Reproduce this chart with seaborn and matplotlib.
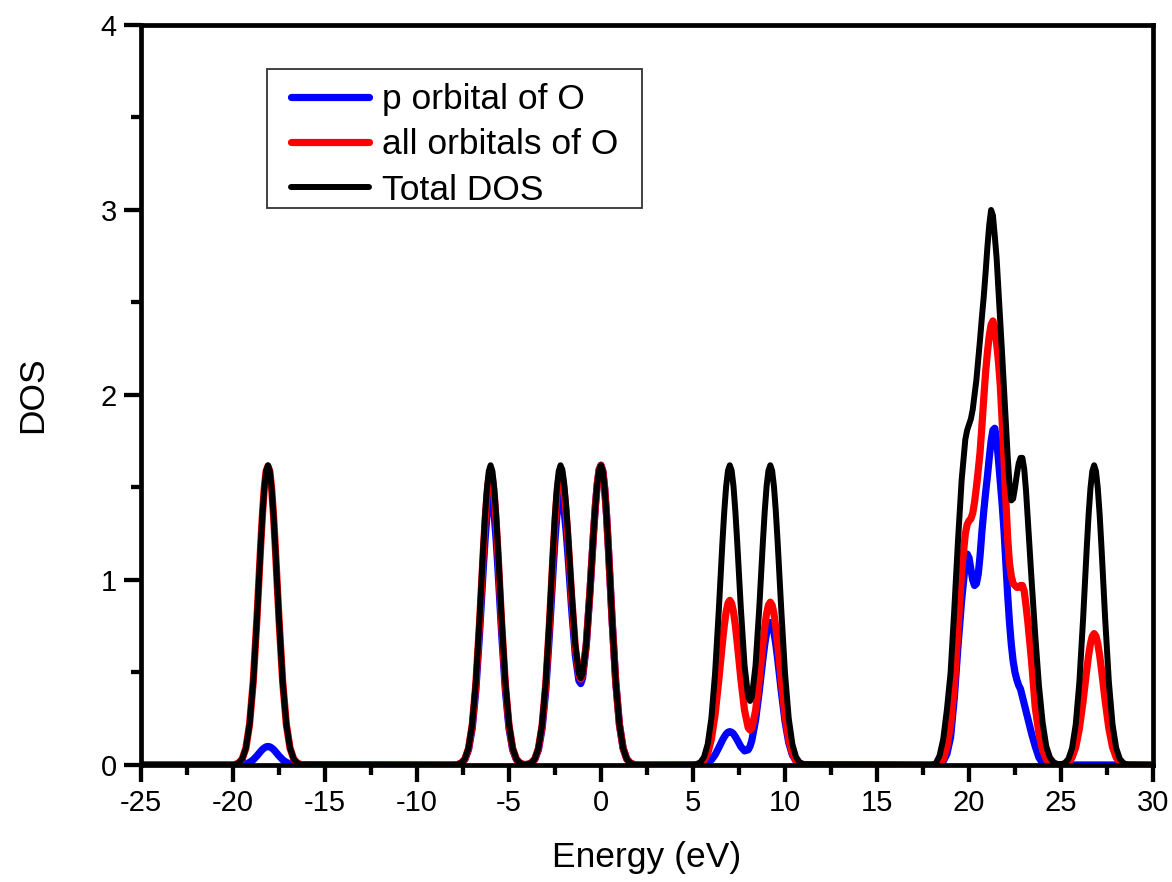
import numpy as np
import pandas as pd
import matplotlib
matplotlib.use("Agg")
import matplotlib.pyplot as plt
from matplotlib.ticker import MultipleLocator
from matplotlib.legend_handler import HandlerLine2D
from matplotlib.patches import Rectangle
import seaborn as sns

# ---------------- data ----------------
# region A: peak near -18.1 eV
energy_a = [-25.0, -20.0, -19.9, -19.7, -19.5, -19.3, -19.1, -18.9, -18.7, -18.5, -18.4,
            -18.3, -18.2, -18.1, -18.0, -17.9, -17.8, -17.7, -17.5, -17.3, -17.1, -16.9,
            -16.7, -16.5, -16.3]
total_a = [0, 0, 0.002, 0.010, 0.032, 0.091, 0.219, 0.450, 0.789, 1.176, 1.353,
           1.495, 1.588, 1.620, 1.588, 1.495, 1.353, 1.176, 0.789, 0.450, 0.219, 0.091,
           0.032, 0.010, 0.002]
o_all_a = [0, 0, 0.002, 0.010, 0.032, 0.091, 0.219, 0.450, 0.789, 1.176, 1.353,
           1.495, 1.588, 1.615, 1.588, 1.495, 1.353, 1.176, 0.789, 0.450, 0.219, 0.091,
           0.032, 0.010, 0.002]
o_p_a = [0, 0, 0.000, 0.001, 0.002, 0.006, 0.014, 0.028, 0.049, 0.073, 0.084,
         0.092, 0.098, 0.100, 0.098, 0.092, 0.084, 0.073, 0.049, 0.028, 0.014, 0.006,
         0.002, 0.001, 0.000]

# region B: peaks near -6.0, -2.2 and 0.0 eV
energy_b = [-8.0,
            -7.8, -7.6, -7.4, -7.2, -7.0, -6.8, -6.6, -6.4, -6.3, -6.2, -6.1, -6.0,
            -5.9, -5.8, -5.7, -5.6, -5.4, -5.2, -5.0, -4.8, -4.6, -4.4, -4.2,
            -4.0, -3.8, -3.6, -3.4, -3.2, -3.0, -2.8, -2.6, -2.5, -2.4, -2.3, -2.2,
            -2.1, -2.0, -1.9, -1.8, -1.6, -1.4, -1.2, -1.1, -1.0, -0.8, -0.6, -0.4,
            -0.3, -0.2, -0.1, 0.0, 0.1, 0.2, 0.3, 0.4, 0.6, 0.8, 1.0, 1.2, 1.4, 1.6, 1.8,
            2.0]
total_b = [0,
           0.002, 0.010, 0.032, 0.091, 0.219, 0.450, 0.789, 1.176, 1.353, 1.495, 1.588, 1.620,
           1.588, 1.495, 1.353, 1.176, 0.789, 0.450, 0.219, 0.091, 0.032, 0.010, 0.002,
           0.003, 0.010, 0.032, 0.091, 0.219, 0.450, 0.789, 1.176, 1.353, 1.495, 1.588, 1.620,
           1.596, 1.522, 1.408, 1.265, 0.940, 0.654, 0.492, 0.470, 0.492, 0.654, 0.940, 1.265,
           1.408, 1.522, 1.596, 1.620, 1.588, 1.495, 1.353, 1.176, 0.789, 0.450, 0.219, 0.091,
           0.032, 0.010, 0.002,
           0]
o_all_b = [0,
           0.002, 0.010, 0.031, 0.089, 0.214, 0.439, 0.769, 1.147, 1.319, 1.458, 1.548, 1.580,
           1.548, 1.458, 1.319, 1.147, 0.769, 0.439, 0.214, 0.089, 0.031, 0.010, 0.002,
           0.003, 0.010, 0.031, 0.089, 0.214, 0.439, 0.769, 1.147, 1.319, 1.458, 1.548, 1.580,
           1.555, 1.484, 1.371, 1.233, 0.917, 0.640, 0.484, 0.464, 0.489, 0.653, 0.939, 1.264,
           1.408, 1.522, 1.596, 1.620, 1.588, 1.495, 1.353, 1.176, 0.789, 0.450, 0.219, 0.091,
           0.032, 0.010, 0.002,
           0]
o_p_b = [0,
         0.002, 0.009, 0.029, 0.082, 0.197, 0.405, 0.710, 1.058, 1.218, 1.346, 1.429, 1.458,
         1.429, 1.346, 1.218, 1.058, 0.710, 0.405, 0.197, 0.082, 0.029, 0.009, 0.002,
         0.003, 0.009, 0.029, 0.082, 0.197, 0.405, 0.710, 1.058, 1.218, 1.346, 1.429, 1.458,
         1.435, 1.371, 1.268, 1.139, 0.848, 0.596, 0.455, 0.440, 0.470, 0.647, 0.937, 1.262,
         1.407, 1.521, 1.596, 1.620, 1.588, 1.495, 1.353, 1.176, 0.789, 0.450, 0.219, 0.091,
         0.032, 0.010, 0.002,
         0]

# region C: peaks near 7.0 and 9.2 eV
energy_c = [5.0, 5.2, 5.4, 5.6, 5.8, 6.0, 6.2, 6.4, 6.6, 6.7, 6.8, 6.9, 7.0, 7.1, 7.2, 7.3,
            7.4, 7.6, 7.8, 8.0, 8.1, 8.2, 8.4, 8.6, 8.8, 8.9, 9.0, 9.1, 9.2, 9.3, 9.4, 9.5,
            9.6, 9.8, 10.0, 10.2, 10.4, 10.6, 10.8, 11.0]
total_c = [0.001, 0.004, 0.014, 0.043, 0.113, 0.254, 0.496, 0.833, 1.205, 1.372, 1.505, 1.591,
           1.620, 1.591, 1.507, 1.374, 1.209, 0.847, 0.539, 0.367, 0.346, 0.367, 0.539, 0.847,
           1.209, 1.374, 1.507, 1.591, 1.620, 1.591, 1.505, 1.372, 1.205, 0.833, 0.496, 0.254,
           0.113, 0.043, 0.014, 0.004]
o_all_c = [0.001, 0.002, 0.008, 0.024, 0.062, 0.140, 0.272, 0.457, 0.662, 0.754, 0.827, 0.874,
           0.890, 0.874, 0.828, 0.755, 0.664, 0.465, 0.296, 0.201, 0.189, 0.200, 0.293, 0.460,
           0.657, 0.746, 0.818, 0.864, 0.880, 0.864, 0.818, 0.745, 0.655, 0.452, 0.269, 0.138,
           0.061, 0.023, 0.008, 0.002]
o_p_c = [0.0, 0.000, 0.002, 0.005, 0.013, 0.028, 0.055, 0.093, 0.134, 0.152, 0.167, 0.177,
         0.180, 0.177, 0.168, 0.153, 0.136, 0.099, 0.076, 0.082, 0.101, 0.134, 0.241, 0.398,
         0.573, 0.652, 0.715, 0.756, 0.770, 0.756, 0.715, 0.652, 0.573, 0.396, 0.236, 0.121,
         0.054, 0.021, 0.007, 0.002]

# region D: band 18-25 eV and peak near 26.8 eV
energy_d = [18.0, 18.2, 18.4, 18.6, 18.8, 19.0, 19.2, 19.4, 19.6, 19.8,
            19.9, 20.0, 20.1, 20.2, 20.3, 20.4, 20.5, 20.6, 20.7, 20.8,
            20.9, 21.0, 21.1, 21.2, 21.3, 21.4, 21.5, 21.6, 21.7, 21.8,
            21.9, 22.0, 22.1, 22.2, 22.3, 22.4, 22.5, 22.6, 22.7, 22.8,
            22.9, 23.0, 23.1, 23.2,
            23.4, 23.6, 23.8, 24.0, 24.2, 24.4, 24.6, 24.8,
            25.0, 25.2, 25.4, 25.6, 25.8, 26.0, 26.2, 26.4, 26.5, 26.6, 26.7, 26.8,
            26.9, 27.0, 27.1, 27.2, 27.4, 27.6, 27.8, 28.0, 28.2, 28.4, 28.6, 30.0]
total_d = [0.0, 0.01, 0.05, 0.14, 0.30, 0.50, 0.84, 1.21, 1.54, 1.76,
           1.81, 1.84, 1.87, 1.92, 2.00, 2.08, 2.19, 2.30, 2.42, 2.53,
           2.66, 2.80, 2.92, 3.00, 2.97, 2.86, 2.74, 2.57, 2.39, 2.22,
           2.04, 1.85, 1.67, 1.52, 1.43, 1.44, 1.50, 1.57, 1.63, 1.66,
           1.66, 1.60, 1.48, 1.32,
           1.00, 0.70, 0.43, 0.23, 0.10, 0.04, 0.015, 0.005,
           0.004, 0.010, 0.032, 0.091, 0.219, 0.450, 0.789, 1.176, 1.353, 1.495, 1.588, 1.620,
           1.588, 1.495, 1.353, 1.176, 0.789, 0.450, 0.219, 0.091, 0.032, 0.010, 0.002, 0.0]
o_all_d = [0.0, 0.0, 0.01, 0.03, 0.10, 0.22, 0.42, 0.73, 1.05, 1.25,
           1.30, 1.32, 1.33, 1.36, 1.42, 1.50, 1.59, 1.69, 1.83, 1.98,
           2.12, 2.23, 2.32, 2.38, 2.40, 2.36, 2.28, 2.18, 2.05, 1.86,
           1.65, 1.44, 1.23, 1.09, 1.02, 0.98, 0.97, 0.96, 0.96, 0.97,
           0.97, 0.94, 0.86, 0.77,
           0.56, 0.31, 0.17, 0.08, 0.03, 0.01, 0.0, 0.0,
           0.001, 0.004, 0.014, 0.040, 0.096, 0.197, 0.346, 0.515, 0.593, 0.655, 0.696, 0.710,
           0.696, 0.655, 0.593, 0.515, 0.346, 0.197, 0.096, 0.040, 0.014, 0.004, 0.001, 0.0]
o_p_d = [0.0, 0.0, 0.005, 0.02, 0.06, 0.15, 0.36, 0.64, 0.89, 1.09,
         1.14, 1.12, 1.06, 1.00, 0.97, 0.98, 1.03, 1.13, 1.26, 1.37,
         1.47, 1.56, 1.66, 1.75, 1.81, 1.82, 1.76, 1.65, 1.53, 1.41,
         1.27, 1.09, 0.92, 0.77, 0.65, 0.56, 0.50, 0.46, 0.43, 0.41,
         0.37, 0.33, 0.29, 0.25,
         0.17, 0.10, 0.04, 0.01, 0.0, 0.0, 0.0, 0.0,
         0.0, 0.0, 0.0, 0.0, 0.0, 0.0, 0.0, 0.0, 0.0, 0.0, 0.0, 0.0,
         0.0, 0.0, 0.0, 0.0, 0.0, 0.0, 0.0, 0.0, 0.0, 0.0, 0.0, 0.0]

series_labels = ["p orbital of O", "all orbitals of O", "Total DOS"]
series_colors = ["#0000FF", "#FF0000", "#000000"]
x_ticks = [-25, -20, -15, -10, -5, 0, 5, 10, 15, 20, 25, 30]
y_ticks = [0, 1, 2, 3, 4]

# ---------------- assemble ----------------
energy = energy_a + energy_b + energy_c + energy_d
o_p = o_p_a + o_p_b + o_p_c + o_p_d
o_all = o_all_a + o_all_b + o_all_c + o_all_d
total = total_a + total_b + total_c + total_d
assert len(energy) == len(o_p) == len(o_all) == len(total)

df = pd.DataFrame({
    "Energy": energy * 3,
    "DOS": o_p + o_all + total,
    "series": [series_labels[0]] * len(energy) + [series_labels[1]] * len(energy)
              + [series_labels[2]] * len(energy),
})

sns.set_style("ticks")
plt.rcParams["font.family"] = ["Liberation Sans", "DejaVu Sans"]
plt.rcParams["axes.unicode_minus"] = False
for key in ["text.color", "axes.labelcolor", "xtick.color", "ytick.color",
            "axes.edgecolor"]:
    plt.rcParams[key] = "black"

fig = plt.figure(figsize=(11.72, 8.82), dpi=100)
ax = fig.add_axes([0.1203, 0.1327, 0.8635, 0.8390])

sns.lineplot(data=df, x="Energy", y="DOS", hue="series", hue_order=series_labels,
             palette=series_colors, estimator=None, sort=False, legend=False, ax=ax)

widths = [5.2, 5.2, 4.3]
for line, w in zip(ax.lines[:3], widths):
    line.set_linewidth(w)
    line.set_solid_joinstyle("round")
    line.set_solid_capstyle("round")

ax.set_xlim(-25, 30)
ax.set_ylim(0, 4)
ax.set_xticks(x_ticks)
ax.set_yticks(y_ticks)
ax.xaxis.set_minor_locator(MultipleLocator(2.5))
ax.yaxis.set_minor_locator(MultipleLocator(0.5))

for s in ax.spines.values():
    s.set_linewidth(3.4)
    s.set_color("black")
    s.set_visible(True)

ax.tick_params(which="major", direction="out", length=12.5, width=3.1, labelsize=21,
               pad=5, colors="black", top=False, right=False)
ax.tick_params(which="minor", direction="out", length=7, width=3.1,
               top=False, right=False)

ax.set_xlabel("Energy (eV)", fontsize=25.5)
ax.set_ylabel("DOS", fontsize=25.5)
ax.xaxis.set_label_coords(0.5, -0.103)
ax.yaxis.set_label_coords(-0.091, 0.5)


class LeadPadHandler(HandlerLine2D):
    """Line handle that starts a little to the right of the handle box."""
    def get_xdata(self, legend, xdescent, ydescent, width, height, fontsize):
        xdata, xmark = super().get_xdata(legend, xdescent, ydescent, width, height, fontsize)
        xdata = np.asarray(xdata, dtype=float).copy()
        xdata[0] += 0.47 * fontsize
        return xdata, xmark


# legend frame (drawn as a separate box, like the original's)
frame = Rectangle((0.1242, 0.7527), 0.3709, 0.1878, transform=ax.transAxes,
                  facecolor="white", edgecolor="#333333", linewidth=1.3, zorder=4.5)
ax.add_patch(frame)

leg = ax.legend(ax.lines[:3], series_labels, loc="upper left",
                bbox_to_anchor=(0.1322, 0.9216), borderaxespad=0, frameon=False,
                fontsize=25.5, handlelength=2.66, handletextpad=0.38, borderpad=0.0,
                labelspacing=0.35,
                handler_map={l: LeadPadHandler() for l in ax.lines[:3]})
leg.set_zorder(5)

fig.savefig("out.png", dpi=100, facecolor="white")
